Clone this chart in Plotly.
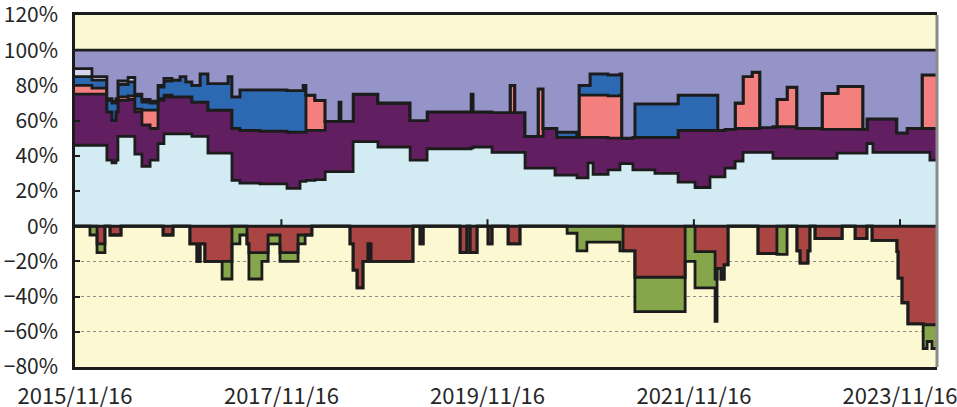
import plotly.graph_objects as go

# ---------------- data (percent of portfolio) ----------------
pos_dates = [
    "2015-11-16", "2016-01-15", "2016-03-08", "2016-03-26", "2016-04-09", "2016-04-16",
    "2016-05-22", "2016-06-15", "2016-07-10", "2016-08-08", "2016-09-05", "2016-09-26",
    "2016-10-25", "2016-11-22", "2016-12-13", "2017-01-03", "2017-02-01", "2017-03-01",
    "2017-05-11", "2017-05-25", "2017-06-22", "2017-09-01", "2017-12-06", "2018-01-21",
    "2018-02-01", "2018-02-11", "2018-03-15", "2018-04-20", "2018-06-08", "2018-06-15",
    "2018-07-28", "2018-10-24", "2019-02-15", "2019-04-16", "2019-09-19", "2019-09-26",
    "2019-12-02", "2020-02-04", "2020-02-21", "2020-03-28", "2020-05-13", "2020-05-31",
    "2020-07-12", "2020-07-19", "2020-09-28", "2020-10-05", "2020-11-06", "2020-11-13",
    "2020-11-24", "2021-01-16", "2021-02-27", "2021-03-06", "2021-04-14", "2021-04-21",
    "2021-07-01", "2021-09-21", "2021-11-20", "2022-01-12", "2022-02-09", "2022-03-06",
    "2022-04-11", "2022-05-09", "2022-06-10", "2022-07-08", "2022-08-23", "2022-09-06",
    "2022-10-12", "2022-11-16", "2023-02-13", "2023-04-07", "2023-04-10", "2023-07-08",
    "2023-07-22", "2023-08-12", "2023-11-05", "2023-12-11", "2024-02-02", "2024-03-01",
    "2024-03-26",
]
light_blue = [
    46, 46, 37.5, 36, 37.5, 51, 51, 41, 34, 37.5, 47, 52.5, 52.5, 52.5, 52.5, 51, 51, 41.5,
    41.5, 26, 24.5, 24, 21.5, 25.5, 25.5, 26, 26.5, 31, 31, 31, 48, 45, 37.5, 44, 44.5, 45,
    42, 42, 42, 33, 33, 33, 29, 29, 27.5, 27.5, 36, 36, 29.5, 32, 35.5, 35.5, 32, 32,
    30, 25, 22, 28, 28, 33, 37, 42, 42, 42, 38.5, 38.5, 38.5, 38.5, 38.5, 41.5, 41.5, 41.5,
    47, 42, 42, 42, 42, 37.5, 37.5,
]
purple = [
    29, 29, 27.5, 24, 27.5, 20.5, 21, 24, 23.5, 18, 24.5, 21, 21, 21, 21, 19.5, 19.5, 24.5,
    24.5, 29.5, 30, 30, 32, 28, 28, 28.5, 28, 28.5, 39.5, 28.5, 27, 25, 22.5, 21, 30.5, 20,
    22.5, 22.5, 22.5, 18, 18, 22.5, 26.5, 21.5, 23, 23, 14.5, 14.5, 21, 18, 14.5, 14.5, 18.5, 18.5,
    20.5, 29.5, 32.5, 26.5, 26.5, 22, 18.5, 13.5, 13.5, 14, 18, 18, 18, 17, 16.5, 13.5, 13.5, 13.5,
    14, 19, 11, 13.5, 13.5, 18, 18,
]
salmon = [
    5, 3.5, 0, 0, 0, 2, 2, 1.5, 8.5, 10.5, 1, 1, 0, 0, 0, 0, 0, 0,
    0, 0, 0, 0, 0, 0, 0, 20, 17, 0, 0, 0, 0, 0, 0, 0, 0, 0,
    0, 15.5, 0, 0, 27, 0, 0, 0, 0, 24, 24, 24, 24, 24, 24.5, 0, 0, 0,
    0, 0, 0, 0, 0, 0, 14.5, 29.5, 32, 0, 0, 15.5, 22.5, 0, 20.5, 20.5, 24.5, 0,
    0, 0, 0, 0, 30.5, 30.5, 30.5,
]
blue = [
    5, 4.5, 6.5, 10, 6.5, 7, 8, 7.5, 4.5, 4, 6.5, 8, 9.5, 11.5, 8.5, 9.5, 16, 15,
    19, 18, 23, 23.5, 23.5, 23.5, 26.5, 0, 0, 0, 0, 0, 0, 0, 0, 0, 0, 0,
    0, 0, 0, 0, 0, 0, 0, 3, 0, 5.5, 5.5, 12, 12, 12, 12, 0, 0, 19,
    19, 20, 20, 20, 0, 0, 0, 0, 0, 0, 0, 0, 0, 0, 0, 0, 0, 0,
    0, 0, 0, 0, 0, 0, 0,
]
pale = [
    4.5, 2, 1, 1, 1, 2, 2.5, 1, 1.5, 1, 1, 1.5, 0, 0, 0, 0, 0, 0,
    0, 0, 0, 0, 0, 0, 0, 0, 0, 0, 0, 0, 0, 0, 0, 0, 0, 0,
    0, 0, 0, 0, 0, 0, 0, 0, 0, 0, 0, 0, 0, 0, 0, 0, 0, 0,
    0, 0, 0, 0, 0, 0, 0, 0, 0, 0, 0, 0, 0, 0, 0, 0, 0, 0,
    0, 0, 0, 0, 0, 0, 0,
]
lavender = [
    10.5, 15, 27.5, 29, 27.5, 17.5, 15.5, 25, 28, 29, 20, 16, 17, 15, 18, 20, 13.5, 19,
    15, 26.5, 22.5, 22.5, 23, 23, 20, 25.5, 28.5, 40.5, 29.5, 40.5, 25, 30, 40, 35, 25, 35,
    35.5, 20, 35.5, 49, 22, 44.5, 44.5, 46.5, 49.5, 20, 20, 13.5, 13.5, 14, 13.5, 50, 49.5, 30.5,
    30.5, 25.5, 25.5, 25.5, 45.5, 45, 30, 15, 12.5, 44, 43.5, 28, 21, 44.5, 24.5, 24.5, 20.5, 45,
    39, 39, 47, 44.5, 14, 14, 14,
]

neg_dates = [
    "2015-11-16", "2016-01-08", "2016-02-02", "2016-03-01", "2016-03-19", "2016-04-27",
    "2016-09-23", "2016-10-28", "2016-12-27", "2017-01-21", "2017-02-01", "2017-02-18",
    "2017-04-20", "2017-05-25", "2017-06-22", "2017-07-17", "2017-07-24", "2017-09-08",
    "2017-09-30", "2017-11-11", "2018-01-14", "2018-02-08", "2018-03-04", "2018-07-17",
    "2018-07-28", "2018-08-11", "2018-09-01", "2018-09-19", "2018-09-29", "2019-02-25",
    "2019-03-22", "2019-04-02", "2019-08-11", "2019-09-04", "2019-09-15", "2019-10-10",
    "2019-11-18", "2019-12-02", "2020-01-28", "2020-03-10", "2020-08-24", "2020-09-28",
    "2020-11-02", "2021-02-27", "2021-03-10", "2021-04-21", "2021-10-16", "2021-11-20",
    "2022-01-30", "2022-02-06", "2022-02-20", "2022-03-03", "2022-03-17", "2022-07-01",
    "2022-09-06", "2022-10-12", "2022-11-16", "2022-11-27", "2022-12-25", "2023-01-01",
    "2023-01-19", "2023-04-25", "2023-06-10", "2023-07-22", "2023-08-09", "2023-11-05",
    "2023-11-09", "2023-11-23", "2023-12-14", "2024-02-06", "2024-02-20", "2024-03-08",
    "2024-03-26",
]
dark_red = [
    0, 0, -10, 0, -5, 0, -5, 0, -10, -20, -10, -20,
    -20, 0, 0, -10, -15, -15, -5, -15, -5, -5, 0, -10,
    -25, -35, -20, -10, -20, 0, -10, 0, -15, 0, -15, 0,
    -10, 0, -10, 0, 0, 0, 0, 0, -14, -29, 0, -14.5,
    -30, -24, -30, -22, 0, -15.5, 0, 0, -14, -21, -14, 0,
    -7, 0, -7, 0, -8, -14.5, -29.5, -43.5, -55.5, -56, -56, -56,
    -56,
]
green = [
    0, -5, -5, 0, 0, 0, 0, 0, 0, 0, 0, 0,
    -10, -10, -5, 0, -15, -5, -5, -5, -5, 0, 0, 0,
    0, 0, 0, 0, 0, 0, 0, 0, 0, 0, 0, 0,
    0, 0, 0, 0, -4, -14, -9, -14, 0, -19.5, -20, -20.5,
    -24, 0, 0, 0, 0, 0, -16, 0, 0, 0, 0, 0,
    0, 0, 0, 0, 0, 0, 0, 0, 0, -13.5, -9.5, -13.5,
    -13.5,
]

tick_dates = ["2015-11-16", "2017-11-16", "2019-11-16", "2021-11-16", "2023-11-16"]
tick_text = ["2015/11/16", "2017/11/16", "2019/11/16", "2021/11/16", "2023/11/16"]
x_range = ["2015-11-16", "2024-03-26"]

# ---------------- style ----------------
EDGE = "#1c1c1c"
FAMILY = "Noto Sans CJK JP, Noto Sans"
XFONT = dict(family=FAMILY, size=22, color="#262626")
YFONT = dict(family=FAMILY, size=21, color="#262626")

fig = go.Figure()
for vals, col in [
    (light_blue, "#D3ECF4"),
    (purple, "#611F61"),
    (salmon, "#F47F7F"),
    (blue, "#2D69B2"),
    (pale, "#D6D6EE"),
    (lavender, "#9494C9"),
]:
    fig.add_trace(go.Scatter(
        x=pos_dates, y=vals, stackgroup="pos", mode="lines",
        line=dict(color=EDGE, width=2.8, shape="hv"), fillcolor=col, hoverinfo="skip",
    ))
for vals, col in [(dark_red, "#A94542"), (green, "#86A64B")]:
    fig.add_trace(go.Scatter(
        x=neg_dates, y=vals, stackgroup="neg", mode="lines",
        line=dict(color=EDGE, width=2.8, shape="hv"), fillcolor=col, hoverinfo="skip",
    ))

shapes = [
    dict(type="line", xref="paper", yref="y", x0=0, x1=1, y0=0, y1=0,
         line=dict(color=EDGE, width=3), layer="above"),
    dict(type="line", xref="paper", yref="paper", x0=1, x1=1, y0=0, y1=1,
         line=dict(color="#8c8c8c", width=3), layer="above"),
]
for d in tick_dates[1:]:
    shapes.append(dict(type="line", xref="x", yref="y", x0=d, x1=d, ysizemode="pixel",
                       yanchor=0, y0=0, y1=7, line=dict(color=EDGE, width=2), layer="above"))

fig.update_layout(
    width=957, height=407,
    margin=dict(l=75, r=20, t=15, b=40),
    paper_bgcolor="white", plot_bgcolor="#FBF8D2",
    showlegend=False,
    shapes=shapes,
    xaxis=dict(
        type="date", range=x_range, tickvals=tick_dates, ticktext=tick_text,
        showgrid=False, zeroline=False, showline=True, linecolor=EDGE, linewidth=2.5,
        mirror=True, ticks="", tickfont=XFONT, ticklabelstandoff=8,
        automargin=False, ticklabeloverflow="allow",
    ),
    yaxis=dict(
        range=[-80, 120], tick0=0, dtick=20, ticksuffix="%",
        showgrid=True, gridcolor="#8a8a8a", griddash="dot", gridwidth=1,
        zeroline=False, showline=True, linecolor=EDGE, linewidth=2.5,
        ticks="inside", ticklen=5, tickwidth=1.5, tickcolor=EDGE,
        tickfont=YFONT, ticklabelstandoff=10,
        automargin=False, ticklabeloverflow="allow",
    ),
)

fig.write_html(
    "out.html",
    config={"displayModeBar": False},
    post_script="document.body.style.margin='0';document.body.style.padding='0';"
                "document.body.style.overflow='hidden';",
)
